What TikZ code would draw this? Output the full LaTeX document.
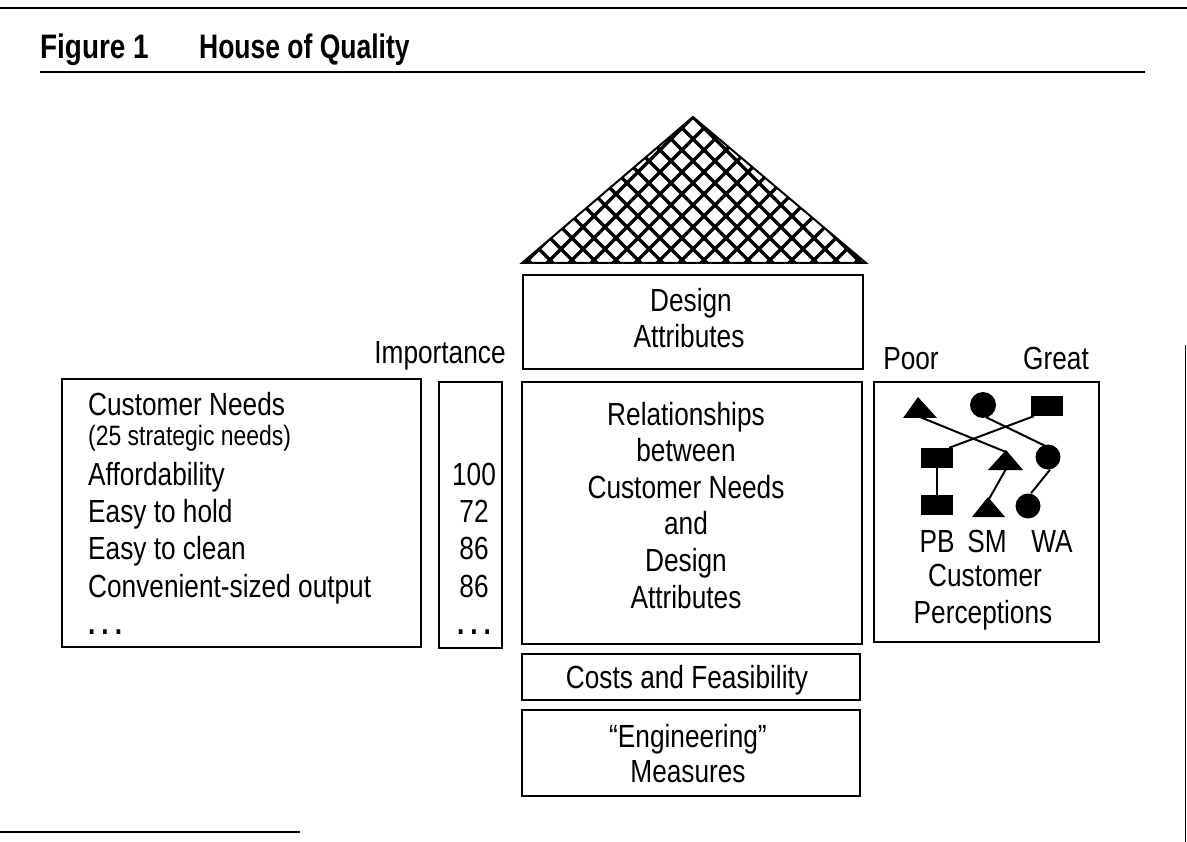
\documentclass[tikz,border=0pt]{standalone}
\usepackage{fontspec}
\setmainfont{Liberation Sans}[FakeStretch=0.82]
\usetikzlibrary{calc}
\begin{document}
\begin{tikzpicture}[x=1pt,y=-1pt,
  box/.style={draw, line width=2pt, inner sep=0pt, anchor=north west},
  txt/.style={font=\fontsize{32}{37}\selectfont, inner sep=0pt, anchor=base},
  ltxt/.style={txt, anchor=base west},
  small/.style={font=\fontsize{28}{30}\selectfont, inner sep=0pt, anchor=base west},
  ttl/.style={font=\fontsize{34}{36}\selectfont\bfseries, inner sep=0pt, anchor=base west},
  rule/.style={line width=2.5pt},
  hatch/.style={line width=3.4pt},
  symline/.style={line width=2pt},
  sq/.style={fill=black, draw=none, inner sep=0pt, minimum width=32, minimum height=20},
  dot/.style={circle, fill=black, draw=none, inner sep=0pt, minimum size=25}]
\useasboundingbox (0,0) rectangle (1187,842);
% rules
\coordinate (topL) at (0,8); \coordinate (topR) at (1187,8);
\draw[rule] (topL) -- (topR);
\node[ttl] (fig) at (40,59) {Figure 1};
\node[ttl, xscale=0.95] (ttlname) at (199,59) {House of Quality};
\coordinate (ruleL) at (40,72); \coordinate (ruleR) at (1145,72);
\draw[line width=2pt] (ruleL) -- (ruleR);
\coordinate (botL) at (0,832); \coordinate (botR) at (300,832);
\draw[line width=2pt] (botL) -- (botR);
\coordinate (edgeT) at (1185.5,345); \coordinate (edgeB) at (1185.5,842);
\draw[line width=1.5pt] (edgeT) -- (edgeB);

% roof
\coordinate (roofT) at (693,117);
\coordinate (roofL) at (522,263);
\coordinate (roofR) at (866,263);
\begin{scope}
  \clip (roofL) -- (roofT) -- (roofR) -- cycle;
  \foreach \i in {-18,...,18} {
    \draw[hatch] ($(roofT)+(\i*22,0)$) -- ++(220,220);
    \draw[hatch] ($(roofT)+(\i*22,0)$) -- ++(-220,220);
  }
\end{scope}
\draw[line width=2pt, line join=miter] (roofL) -- (roofT) -- (roofR) -- cycle;

% central column
\node[box, minimum width=340, minimum height=94] (design) at (522,274) {};
\node[txt] (designA) at (691,312) {Design};
\node[txt] (designB) at (689,348) {Attributes};

\node[box, minimum width=340, minimum height=262] (rel) at (521,381) {};
\node[txt] (relA) at (686,425) {Relationships};
\node[txt] (relB) at (686,461) {between};
\node[txt] (relC) at (686,498) {Customer Needs};
\node[txt] (relD) at (686,534) {and};
\node[txt] (relE) at (686,571) {Design};
\node[txt] (relF) at (686,608) {Attributes};

\node[box, minimum width=338, minimum height=46] (cost) at (521,653) {};
\node[txt] (costT) at (687,688) {Costs and Feasibility};

\node[box, minimum width=338, minimum height=86] (eng) at (521,709) {};
\node[txt] (engA) at (688,747) {``Engineering''};
\node[txt] (engB) at (688,782) {Measures};

% customer needs
\node[box, minimum width=359, minimum height=268] (needs) at (61,378) {};
\node[ltxt] (n0) at (88,416) {Customer Needs};
\node[small] (n1) at (88,446) {(25 strategic needs)};
\node[ltxt] (n2) at (88,485) {Affordability};
\node[ltxt] (n3) at (88,522) {Easy to hold};
\node[ltxt] (n4) at (88,559) {Easy to clean};
\node[ltxt] (n5) at (88,597) {Convenient-sized output};
\node[ltxt] (n6) at (88,634) {\textbf{.\hspace{6pt}.\hspace{6pt}.}};

% importance
\node[txt] (impL) at (440,364) {Importance};
\node[box, minimum width=63, minimum height=266] (imp) at (438,381) {};
\node[txt] (i2) at (474,485) {100};
\node[txt] (i3) at (474,522) {72};
\node[txt] (i4) at (474,559) {86};
\node[txt] (i5) at (474,597) {86};
\node[txt] (i6) at (474,634) {\textbf{.\hspace{6pt}.\hspace{6pt}.}};

% customer perceptions
\node[txt] (poor) at (911,370) {Poor};
\node[txt] (great) at (1056,370) {Great};
\node[box, minimum width=225, minimum height=260] (perc) at (873,381) {};

\coordinate (tAb) at (920,417);
\coordinate (tBa) at (1006,452);
\coordinate (tBb) at (1006,469);
\coordinate (tCa) at (989,499);
\node[dot, minimum size=26] (cA) at (983,405) {};
\node[dot] (cB) at (1048,457) {};
\node[dot] (cC) at (1028,506) {};
\node[sq] (sA) at (1047,406) {};
\node[sq] (sB) at (937,458) {};
\node[sq] (sC) at (937,505) {};

\draw[symline] (tAb) -- (tBa);
\draw[symline] ($(cA.south)+(3,-1)$) -- ($(cB.north)+(-2,2)$);
\draw[symline] ($(sA.south west)+(3,0)$) -- ($(sB.north east)+(-4,0)$);
\draw[symline] (sB) -- (sC);
\draw[symline] (tBb) -- (tCa);
\draw[symline] ($(cB.south)+(2,0)$) -- ($(cC.north)+(3,0)$);

\fill (903,418) -- (918,397) -- (937,418) -- cycle;
\fill (988,470) -- (1006,450) -- (1023,470) -- cycle;
\fill (972,517) -- (988,497) -- (1005,517) -- cycle;

\node[txt] (pb) at (937,552) {PB};
\node[txt] (sm) at (987,552) {SM};
\node[txt] (wa) at (1052,552) {WA};
\node[txt] (pc1) at (985,586) {Customer};
\node[txt] (pc2) at (983,623) {Perceptions};
\end{tikzpicture}
\end{document}
